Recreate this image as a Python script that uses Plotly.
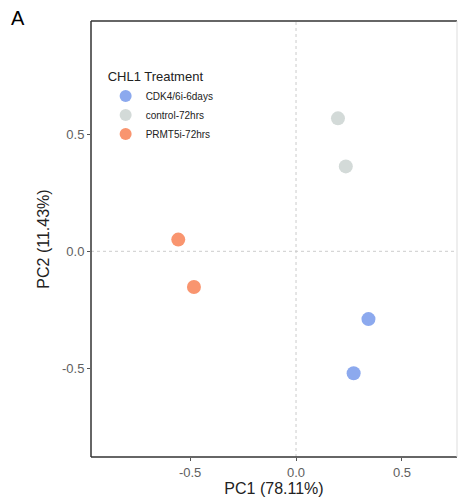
import plotly.graph_objects as go

groups = ["CDK4/6i-6days", "control-72hrs", "PRMT5i-72hrs"]
colors = ["#8CA9EE", "#D3DAD8", "#F9956F"]
pc1 = {
    "CDK4/6i-6days": [0.342, 0.272],
    "control-72hrs": [0.198, 0.235],
    "PRMT5i-72hrs": [-0.556, -0.482],
}
pc2 = {
    "CDK4/6i-6days": [-0.289, -0.52],
    "control-72hrs": [0.567, 0.362],
    "PRMT5i-72hrs": [0.05, -0.152],
}
x_title = "PC1 (78.11%)"
y_title = "PC2 (11.43%)"
legend_title = "CHL1 Treatment"
panel_label = "A"
x_range = [-0.968, 0.76]
y_range = [-0.877, 0.982]
tick_vals = [-0.5, 0.0, 0.5]
tick_text = ["-0.5", "0.0", "0.5"]

fig = go.Figure()
for g, c in zip(groups, colors):
    fig.add_trace(go.Scatter(
        x=pc1[g], y=pc2[g], mode="markers", name=g,
        marker=dict(color=c, size=14, line=dict(width=0)),
    ))

font = "Liberation Sans, Arial, sans-serif"
axis_common = dict(
    showgrid=False, zeroline=False, showline=False,
    ticks="outside", ticklen=3, tickcolor="#555555", tickwidth=1,
    tickvals=tick_vals, ticktext=tick_text,
    tickfont=dict(family=font, size=13, color="#606060"),
)
fig.update_layout(
    width=459, height=501,
    margin=dict(l=91, r=2, t=21, b=44),
    paper_bgcolor="white", plot_bgcolor="white",
    font=dict(family=font),
    showlegend=True,
    legend=dict(
        x=0.04, y=0.9, xanchor="left", yanchor="top",
        bgcolor="rgba(0,0,0,0)",
        title=dict(text=legend_title, font=dict(family=font, size=13, color="#222222")),
        font=dict(family=font, size=10, color="#222222"),
        itemsizing="constant", tracegroupgap=0,
    ),
    xaxis=dict(range=x_range, title=dict(text=x_title, font=dict(family=font, size=16, color="#222222"), standoff=4), **axis_common),
    yaxis=dict(range=y_range, title=dict(text=y_title, font=dict(family=font, size=16, color="#222222"), standoff=8), **axis_common),
)
# dotted zero reference lines
fig.add_shape(type="line", xref="x", yref="paper", x0=0, x1=0, y0=0, y1=1,
              line=dict(color="#CCCCCC", width=1, dash="dot"), layer="below")
fig.add_shape(type="line", xref="paper", yref="y", x0=0, x1=1, y0=0, y1=0,
              line=dict(color="#CCCCCC", width=1, dash="dot"), layer="below")
# panel frame
fig.add_shape(type="line", xref="paper", yref="paper", x0=0, x1=1, y0=0, y1=0, line=dict(color="#333333", width=1.5))
fig.add_shape(type="line", xref="paper", yref="paper", x0=0, x1=1, y0=1, y1=1, line=dict(color="#333333", width=1.5))
fig.add_shape(type="line", xref="paper", yref="paper", x0=0, x1=0, y0=0, y1=1, line=dict(color="#333333", width=1.5))
fig.add_shape(type="line", xref="paper", yref="paper", x0=1, x1=1, y0=0, y1=1, line=dict(color="#DDDDDD", width=1))
fig.add_annotation(text=panel_label, xref="paper", yref="paper", x=-0.225, y=1.036,
                   xanchor="left", yanchor="top", showarrow=False,
                   font=dict(family=font, size=20, color="#000000"))
fig.write_html("out.html")
